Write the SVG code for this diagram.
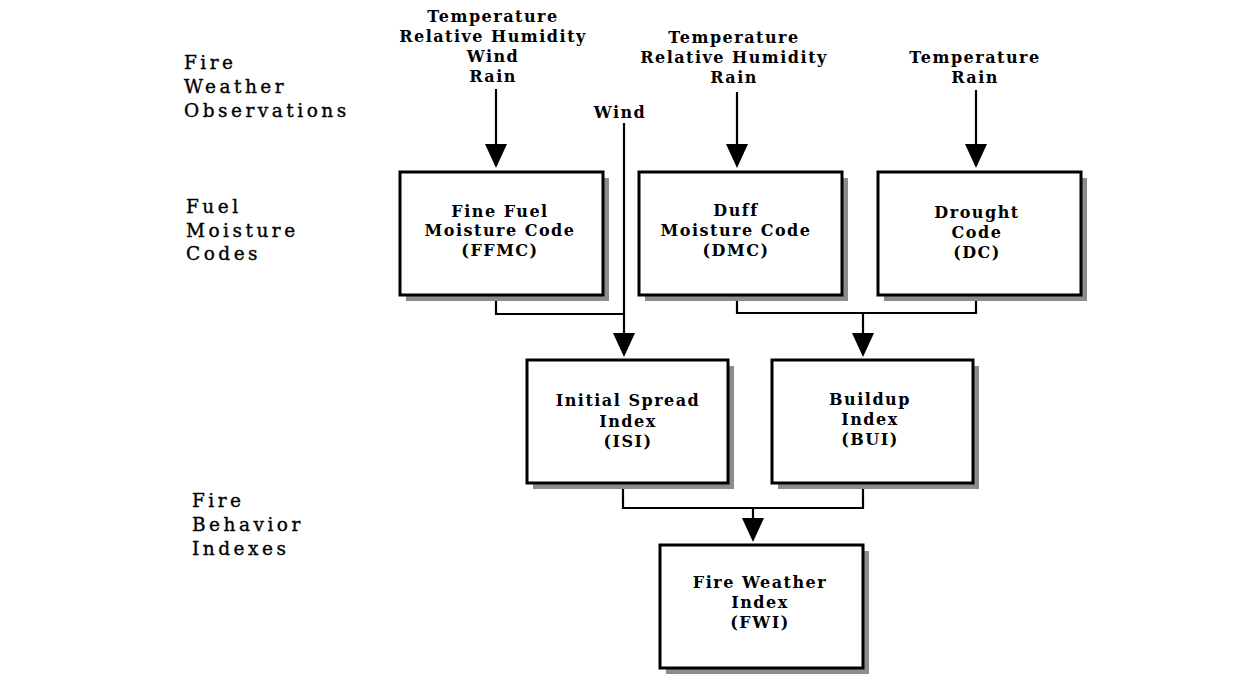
<svg xmlns="http://www.w3.org/2000/svg" width="1260" height="682" viewBox="0 0 1260 682">
<style>
.sh{fill:#8c8c8c}
.bx{fill:#fff;stroke:#000;stroke-width:3}
.ln{fill:none;stroke:#000;stroke-width:2.2}
.t{font-family:"DejaVu Serif",serif;font-weight:bold;font-size:16px;letter-spacing:1.5px;text-anchor:middle;fill:#000}
.side{font-family:"DejaVu Serif",serif;font-size:18.5px;letter-spacing:3.5px;fill:#000;stroke:#000;stroke-width:0.35}
</style>
<rect width="1260" height="682" fill="#fff"/>
<g id="side-labels">
<text class="side" x="184" y="69">Fire</text>
<text class="side" x="184" y="93">Weather</text>
<text class="side" x="184" y="117">Observations</text>
<text class="side" x="186" y="213">Fuel</text>
<text class="side" x="186" y="237">Moisture</text>
<text class="side" x="186" y="260">Codes</text>
<text class="side" x="192" y="507">Fire</text>
<text class="side" x="192" y="531">Behavior</text>
<text class="side" x="192" y="555">Indexes</text>
</g>
<g id="inputs">
<text class="t" x="493" y="22">Temperature</text>
<text class="t" x="493" y="42">Relative Humidity</text>
<text class="t" x="493" y="62">Wind</text>
<text class="t" x="493" y="82">Rain</text>
<text class="t" x="620" y="118">Wind</text>
<text class="t" x="734" y="43">Temperature</text>
<text class="t" x="734" y="63">Relative Humidity</text>
<text class="t" x="734" y="83">Rain</text>
<text class="t" x="975" y="63">Temperature</text>
<text class="t" x="975" y="83">Rain</text>
</g>
<g id="connectors">
<path class="ln" d="M496,89 V146"/><path d="M485,144 L507,144 L496,168 Z"/>
<path class="ln" d="M737,92 V146"/><path d="M726,144 L748,144 L737,168 Z"/>
<path class="ln" d="M976,90 V146"/><path d="M965,144 L987,144 L976,168 Z"/>
<path class="ln" d="M624,123 V336"/>
<path class="ln" d="M496,296 V314 H624"/><path d="M613,333 L635,333 L624,357 Z"/>
<path class="ln" d="M737,297 V313 H976 V297"/>
<path class="ln" d="M863,313 V336"/><path d="M852,333 L874,333 L863,357 Z"/>
<path class="ln" d="M623,484 V508 H863 V484"/>
<path class="ln" d="M753,508 V520"/><path d="M742,518 L764,518 L753,542 Z"/>
</g>
<g id="ffmc">
<rect class="sh" x="406" y="178" width="203" height="123"/>
<rect class="bx" x="400" y="172" width="203" height="123"/>
<text class="t" x="500" y="217">Fine Fuel</text>
<text class="t" x="500" y="236">Moisture Code</text>
<text class="t" x="500" y="256">(FFMC)</text>
</g>
<g id="dmc">
<rect class="sh" x="645" y="178" width="203" height="123"/>
<rect class="bx" x="639" y="172" width="203" height="123"/>
<text class="t" x="736" y="216">Duff</text>
<text class="t" x="736" y="236">Moisture Code</text>
<text class="t" x="736" y="256">(DMC)</text>
</g>
<g id="dc">
<rect class="sh" x="884" y="178" width="203" height="123"/>
<rect class="bx" x="878" y="172" width="203" height="123"/>
<text class="t" x="977" y="218">Drought</text>
<text class="t" x="977" y="238">Code</text>
<text class="t" x="977" y="258">(DC)</text>
</g>
<g id="isi">
<rect class="sh" x="533" y="366" width="201" height="123"/>
<rect class="bx" x="527" y="360" width="201" height="123"/>
<text class="t" x="628" y="406">Initial Spread</text>
<text class="t" x="628" y="427">Index</text>
<text class="t" x="628" y="447">(ISI)</text>
</g>
<g id="bui">
<rect class="sh" x="778" y="366" width="201" height="123"/>
<rect class="bx" x="772" y="360" width="201" height="123"/>
<text class="t" x="870" y="405">Buildup</text>
<text class="t" x="870" y="425">Index</text>
<text class="t" x="870" y="445">(BUI)</text>
</g>
<g id="fwi">
<rect class="sh" x="666" y="551" width="203" height="123"/>
<rect class="bx" x="660" y="545" width="203" height="123"/>
<text class="t" x="760" y="588">Fire Weather</text>
<text class="t" x="760" y="608">Index</text>
<text class="t" x="760" y="628">(FWI)</text>
</g>
</svg>
